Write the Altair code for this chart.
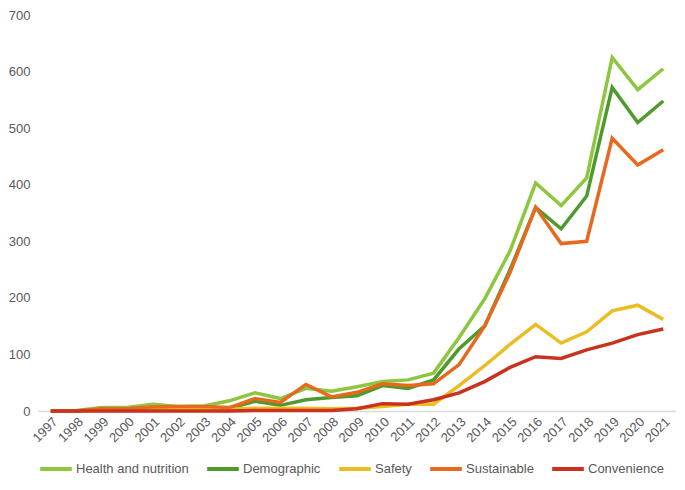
import altair as alt
import pandas as pd

years = [str(y) for y in range(1997, 2022)]
series_names = ["Health and nutrition", "Demographic", "Safety", "Sustainable", "Convenience"]
health = [0, 1, 6, 6, 12, 8, 9, 18, 32, 22, 40, 35, 43, 52, 55, 67, 130, 198, 283, 403, 363, 412, 625, 568, 605]
demographic = [0, 0, 3, 4, 5, 6, 5, 5, 17, 10, 20, 24, 27, 45, 40, 55, 110, 150, 250, 360, 322, 380, 572, 510, 548]
safety = [0, 0, 1, 1, 2, 2, 2, 3, 5, 5, 5, 4, 5, 8, 12, 12, 45, 80, 118, 153, 120, 140, 177, 187, 162]
sustainable = [0, 0, 4, 4, 7, 8, 8, 6, 22, 15, 47, 25, 33, 48, 45, 48, 82, 150, 245, 360, 296, 300, 482, 435, 462]
convenience = [0, 0, 0, 0, 0, 0, 0, 0, 1, 1, 1, 1, 4, 13, 12, 20, 32, 52, 77, 96, 93, 108, 120, 135, 145]
colors = ["#8dc63f", "#4e9a2a", "#ebbd22", "#e8691e", "#c8321e"]

all_values = [health, demographic, safety, sustainable, convenience]
rows = []
for name, vals in zip(series_names, all_values):
    for y, v in zip(years, vals):
        rows.append({"year": y, "value": v, "series": name})
df = pd.DataFrame(rows)

FONT = "Liberation Sans"
GREY = "#595959"

x_enc = alt.X("year:O", scale=alt.Scale(domain=years, paddingInner=0, paddingOuter=0.5),
              axis=alt.Axis(title=None, labelAngle=315, ticks=False, domainColor="#d9d9d9",
                            domainWidth=1.5, labelFontSize=13, labelColor=GREY, labelFont=FONT,
                            labelPadding=4, grid=False))
y_enc = alt.Y("value:Q", scale=alt.Scale(domain=[0, 700], nice=False),
              axis=alt.Axis(title=None, values=list(range(0, 701, 100)), ticks=False, domain=False,
                            grid=False, labelFontSize=13, labelColor=GREY, labelFont=FONT,
                            labelPadding=8))
color_enc = alt.Color("series:N", scale=alt.Scale(domain=series_names, range=colors),
                      legend=alt.Legend(title=None, orient="bottom", direction="horizontal",
                                        symbolType="stroke", symbolStrokeWidth=4, symbolSize=1000,
                                        labelFont=FONT, labelFontSize=13, labelColor=GREY,
                                        columnPadding=10, labelOffset=2, offset=6))

layers = []
for name in series_names:
    layers.append(
        alt.Chart(df).transform_filter(alt.datum.series == name)
        .mark_line(strokeWidth=3.5, strokeJoin="miter")
        .encode(x=x_enc, y=y_enc, color=color_enc)
    )

chart = alt.layer(*layers).properties(
    width=638, height=396,
    autosize=alt.AutoSizeParams(type="none"),
    padding={"left": 30, "top": 7, "right": 0, "bottom": 72},
).configure_view(stroke=None)

chart.save("out.html", embed_options={"renderer": "svg", "actions": False})
